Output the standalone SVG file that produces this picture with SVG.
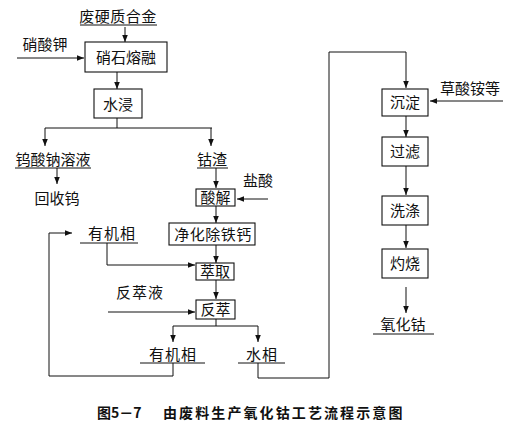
<svg xmlns="http://www.w3.org/2000/svg" width="521" height="430" viewBox="0 0 521 430">
<style>
text{font-family:"Noto Sans CJK SC","Liberation Sans",sans-serif;font-size:15px;fill:#111}
.m{text-anchor:middle}
.b{fill:#fff;stroke:#111;stroke-width:1.1}
.l{fill:none;stroke:#111;stroke-width:1}
.a{fill:none;stroke:#111;stroke-width:1;marker-end:url(#ah)}
.cap{font-weight:bold;font-size:14px}
</style>
<defs>
<marker id="ah" viewBox="0 0 10 10" refX="10" refY="5" markerWidth="7" markerHeight="7" markerUnits="userSpaceOnUse" orient="auto">
<path d="M0,1 L10,5 L0,9 Z" fill="#111"/>
</marker>
</defs>
<rect width="521" height="430" fill="#fff"/>

<g id="connectors">
<path class="a" d="M125,27 V42"/>
<path class="a" d="M17,58 H84"/>
<path class="a" d="M117,72 V89"/>
<path class="l" d="M117,118 V128 M45,128 H212"/>
<path class="a" d="M45,128 V146"/>
<path class="a" d="M211,128 V146"/>
<path class="a" d="M57,168 V184"/>
<path class="a" d="M216,168 V188"/>
<path class="a" d="M268,199 H237"/>
<path class="a" d="M216,206 V223"/>
<path class="a" d="M216,245 V263"/>
<path class="a" d="M107,243 V265 H195"/>
<path class="a" d="M216,280 V299"/>
<path class="a" d="M108,312 H195"/>
<path class="l" d="M216,319 V326 M173,326 H258"/>
<path class="a" d="M173,326 V342"/>
<path class="a" d="M258,326 V342"/>
<path class="a" d="M173,363 V376 H49 V233 H72"/>
<path class="a" d="M258,363 V378 H329 V52 H406 V88"/>
<path class="a" d="M503,101 H430"/>
<path class="a" d="M406,116 V137"/>
<path class="a" d="M406,166 V195"/>
<path class="a" d="M406,225 V248"/>
<path class="a" d="M406,287 V313"/>
</g>

<g id="n-feihuo"><text class="m" x="118" y="22" letter-spacing="0.5">废硬质合金</text><path class="l" d="M80,25 H157"/></g>
<g id="n-xiaosuanjia"><text class="m" x="45" y="50">硝酸钾</text></g>
<g id="n-xiaoshi"><rect class="b" x="85" y="42" width="82" height="30"/><text class="m" x="126" y="63">硝石熔融</text></g>
<g id="n-shuijin"><rect class="b" x="94" y="89" width="48" height="29"/><text class="m" x="118" y="110">水浸</text></g>
<g id="n-wusuanna"><text class="m" x="53" y="165">钨酸钠溶液</text><path class="l" d="M15,168 H91"/></g>
<g id="n-huishouwu"><text class="m" x="57" y="204">回收钨</text></g>
<g id="n-guzha"><text class="m" x="212" y="165">钴渣</text><path class="l" d="M197,168 H228"/></g>
<g id="n-yansuan"><text class="m" x="258" y="186">盐酸</text></g>
<g id="n-suanjie"><rect class="b" x="196" y="189" width="39" height="17"/><text class="m" x="215.5" y="203">酸解</text></g>
<g id="n-jinghua"><rect class="b" x="169" y="223" width="86" height="22"/><text class="m" x="213" y="240" letter-spacing="0.5">净化除铁钙</text></g>
<g id="n-youji1"><text class="m" x="112" y="239" letter-spacing="1">有机相</text><path class="l" d="M80,243 H138"/></g>
<g id="n-cuiqu"><rect class="b" x="196" y="263" width="38" height="17"/><text class="m" x="215" y="277">萃取</text></g>
<g id="n-fancuiye"><text class="m" x="140" y="298" letter-spacing="1">反萃液</text></g>
<g id="n-fancui"><rect class="b" x="196" y="300" width="39" height="19"/><text class="m" x="215.5" y="315">反萃</text></g>
<g id="n-youji2"><text class="m" x="173" y="360" letter-spacing="1">有机相</text><path class="l" d="M140,363 H205"/></g>
<g id="n-shuixiang"><text class="m" x="262" y="360" letter-spacing="1">水相</text><path class="l" d="M238,363 H285"/></g>
<g id="n-caosuan"><text class="m" x="470" y="94">草酸铵等</text></g>
<g id="n-chendian"><rect class="b" x="382" y="89" width="46" height="27"/><text class="m" x="405" y="108">沉淀</text></g>
<g id="n-guolv"><rect class="b" x="382" y="137" width="46" height="29"/><text class="m" x="405" y="157">过滤</text></g>
<g id="n-xidi"><rect class="b" x="382" y="196" width="46" height="29"/><text class="m" x="405" y="216">洗涤</text></g>
<g id="n-zhuoshao"><rect class="b" x="382" y="249" width="46" height="29"/><text class="m" x="405" y="269">灼烧</text></g>
<g id="n-yanghuagu"><text class="m" x="403" y="330">氧化钴</text><path class="l" d="M373,334 H434" stroke-width="1.5"/></g>

<g id="caption">
<text class="cap" x="97" y="418">图5－7</text>
<text class="cap" x="163" y="418" letter-spacing="2.1">由废料生产氧化钴工艺流程示意图</text>
</g>
</svg>
